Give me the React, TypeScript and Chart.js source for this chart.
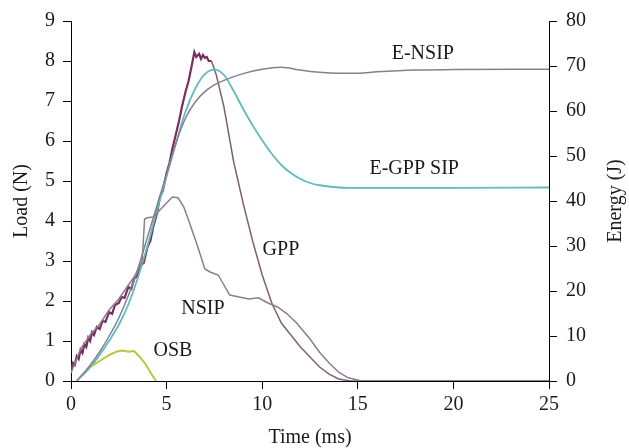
import React, { useEffect, useRef } from "react";
import { Chart, registerables } from "chart.js";

Chart.register(...registerables);

// ---- Data (time in ms, load in N, energy in J) ----
const gppTime = [0, 0.1, 0.2, 0.3, 0.4, 0.5, 0.6, 0.7, 0.8, 0.9, 1.0, 1.1, 1.2, 1.35, 1.5, 1.65, 1.8, 2.0, 2.15, 2.3, 2.5, 2.65, 2.8, 3.0, 3.15, 3.3, 3.5, 3.65, 3.8, 4.0, 4.15, 4.3, 4.5, 4.65, 4.8, 5.0, 5.15, 5.3, 5.5, 5.65, 5.8, 6.0, 6.15, 6.3, 6.45, 6.55, 6.7, 6.8, 6.9, 7.0, 7.1, 7.2, 7.35, 7.6, 8.0, 8.5, 9.0, 9.5, 10.0, 10.5, 11.0, 11.5, 12.0, 12.5, 13.0, 13.5, 14.0, 14.6, 25];
const gppLoad = [0.25, 0.45, 0.4, 0.62, 0.55, 0.78, 0.7, 0.92, 0.85, 1.08, 1.0, 1.22, 1.15, 1.35, 1.3, 1.5, 1.48, 1.72, 1.68, 1.9, 1.95, 2.1, 2.08, 2.35, 2.3, 2.55, 2.65, 2.9, 2.95, 3.35, 3.5, 3.85, 4.2, 4.6, 4.75, 5.2, 5.45, 5.8, 6.2, 6.5, 6.85, 7.25, 7.5, 7.85, 8.22, 8.1, 8.18, 8.05, 8.15, 8.08, 8.1, 8.0, 8.0, 7.65, 6.85, 5.5, 4.45, 3.5, 2.65, 1.95, 1.45, 1.15, 0.85, 0.6, 0.35, 0.17, 0.05, 0, 0];

const nsipTime = [0, 0.5, 1.0, 1.5, 2.0, 2.5, 3.0, 3.3, 3.55, 3.72, 3.85, 4.0, 4.3, 4.7, 5.0, 5.3, 5.6, 5.9, 6.2, 6.6, 7.0, 7.3, 7.7, 8.0, 8.3, 8.8, 9.3, 9.8, 10.3, 10.8, 11.3, 11.8, 12.5, 13.0, 13.5, 14.0, 14.5, 15.2, 25];
const nsipLoad = [0.2, 0.8, 1.15, 1.42, 1.78, 2.05, 2.4, 2.6, 2.8, 3.0, 4.05, 4.08, 4.1, 4.3, 4.45, 4.6, 4.58, 4.35, 3.95, 3.4, 2.8, 2.72, 2.65, 2.4, 2.15, 2.1, 2.05, 2.08, 1.95, 1.85, 1.68, 1.45, 1.05, 0.72, 0.45, 0.22, 0.08, 0, 0];

const osbTime = [1.1, 1.5, 2.0, 2.4, 2.7, 3.0, 3.3, 3.6, 3.9, 4.2, 4.45];
const osbLoad = [0.38, 0.5, 0.65, 0.74, 0.76, 0.73, 0.75, 0.6, 0.42, 0.18, 0];

const eGppTime = [0.3, 1.0, 1.5, 2.0, 2.5, 3.0, 3.5, 4.0, 4.5, 5.0, 5.5, 6.0, 6.5, 7.0, 7.5, 8.0, 8.5, 9.0, 9.5, 10.0, 10.5, 11.0, 11.5, 12.0, 12.5, 13.0, 14.0, 15.0, 20.0, 25.0];
const eGppEnergy = [0, 3, 5.8, 9, 12.5, 17, 23, 30, 38, 45.5, 53, 60, 65, 68.2, 69.2, 68, 64.5, 60.5, 56.8, 53.5, 50.5, 48, 46.2, 44.9, 44, 43.5, 43, 42.9, 42.9, 43];

const eNsipTime = [0.3, 1.0, 1.5, 2.0, 2.5, 3.0, 3.5, 4.0, 4.5, 5.0, 5.5, 6.0, 6.5, 7.0, 7.5, 8.0, 9.0, 10.0, 11.0, 12.0, 13.0, 14.0, 15.0, 16.0, 18.0, 20.0, 25.0];
const eNsipEnergy = [0, 3.5, 6.5, 10, 14, 19, 25, 32, 39, 46, 53, 58.5, 62, 64.3, 65.8, 66.8, 68.3, 69.3, 69.7, 69.1, 68.6, 68.4, 68.4, 68.7, 69.1, 69.2, 69.3];

// Curve labels (position in time / load coordinates)
const labelTexts = ["E-NSIP", "E-GPP SIP", "GPP", "NSIP", "OSB"];
const labelTime = [18.4, 17.95, 10.98, 6.9, 5.33];
const labelLoad = [8.17, 5.31, 3.29, 1.8, 0.76];

const rightAxisTitle = "Energy (J)";

const FONT = '"Liberation Serif", "Times New Roman", serif';

const zip = (xs: number[], ys: number[]) => xs.map((x, i) => ({ x, y: ys[i] }));

const labelPlugin = {
  id: "curveLabels",
  afterDatasetsDraw(chart: any) {
    const { ctx, scales, chartArea } = chart;
    ctx.save();
    ctx.font = `20px ${FONT}`;
    ctx.fillStyle = "#1a1a1a";
    ctx.textAlign = "center";
    ctx.textBaseline = "middle";
    labelTexts.forEach((t, i) => {
      ctx.fillText(t, scales.x.getPixelForValue(labelTime[i]), scales.y.getPixelForValue(labelLoad[i]));
    });
    // right axis title, reading bottom-to-top like the left one
    const r = scales.y2;
    ctx.translate(r.right - 13, (chartArea.top + chartArea.bottom) / 2);
    ctx.rotate(-Math.PI / 2);
    ctx.fillText(rightAxisTitle, 0, 0);
    ctx.restore();
  },
};

export default function App() {
  const ref = useRef<HTMLCanvasElement>(null);
  useEffect(() => {
    if (!ref.current) return;
    const tickFont = { family: FONT, size: 20 };
    const titleFont = { family: FONT, size: 20, lineHeight: 1 };
    const grid = { drawOnChartArea: false, drawTicks: true, tickLength: 8, tickColor: "#000", tickWidth: 1 };
    const border = { display: true, color: "#000", width: 1 };
    const chart = new Chart(ref.current, {
      type: "line",
      data: {
        datasets: [
          {
            label: "OSB",
            data: zip(osbTime, osbLoad),
            borderColor: "#b7c83c",
            borderWidth: 2,
            pointRadius: 0,
            yAxisID: "y",
          },
          {
            label: "NSIP",
            data: zip(nsipTime, nsipLoad),
            borderColor: "#8a7e8e",
            borderWidth: 1.5,
            pointRadius: 0,
            yAxisID: "y",
          },
          {
            label: "E-NSIP",
            data: zip(eNsipTime, eNsipEnergy),
            borderColor: "#85808f",
            borderWidth: 1.5,
            pointRadius: 0,
            cubicInterpolationMode: "monotone",
            yAxisID: "y2",
          },
          {
            label: "E-GPP SIP",
            data: zip(eGppTime, eGppEnergy),
            borderColor: "#5fbcbc",
            borderWidth: 1.8,
            pointRadius: 0,
            cubicInterpolationMode: "monotone",
            yAxisID: "y2",
          },
          {
            label: "GPP",
            data: zip(gppTime, gppLoad),
            borderColor: "#7b2d60",
            borderWidth: 2,
            pointRadius: 0,
            yAxisID: "y",
            segment: {
              borderColor: (c: any) => (c.p0.parsed.x >= 7.3 ? "#7d6277" : "#7b2d60"),
              borderWidth: (c: any) => (c.p0.parsed.x >= 7.3 ? 1.5 : 2.2),
            },
          },
        ],
      },
      options: {
        animation: false,
        responsive: false,
        maintainAspectRatio: false,
        layout: { padding: { top: 20, left: 0, right: 0, bottom: 0 } },
        plugins: { legend: { display: false }, tooltip: { enabled: false } },
        scales: {
          x: {
            type: "linear",
            min: 0,
            max: 25,
            grid,
            border,
            ticks: { stepSize: 5, color: "#1a1a1a", font: tickFont, padding: 4, maxRotation: 0 },
            title: { display: true, text: "Time (ms)", color: "#1a1a1a", font: titleFont, padding: { top: 0, bottom: 0 } },
            afterFit: (s: any) => { s.height = 67; },
          },
          y: {
            type: "linear",
            position: "left",
            min: 0,
            max: 9,
            grid,
            border,
            ticks: { stepSize: 1, color: "#1a1a1a", font: tickFont, padding: 8 },
            title: { display: true, text: "Load (N)", color: "#1a1a1a", font: titleFont, padding: { top: 12, bottom: 0 } },
            afterFit: (s: any) => { s.width = 71; },
          },
          y2: {
            type: "linear",
            position: "right",
            min: 0,
            max: 80,
            grid,
            border,
            ticks: { stepSize: 10, color: "#1a1a1a", font: tickFont, padding: 9 },
            afterFit: (s: any) => { s.width = 80; },
          },
        },
      } as any,
      plugins: [labelPlugin],
    });
    return () => chart.destroy();
  }, []);
  return (
    <div style={{ position: "fixed", left: 0, top: 0, width: 629, height: 448, background: "#fff" }}>
      <canvas ref={ref} width={629} height={448} style={{ display: "block" }} />
    </div>
  );
}
